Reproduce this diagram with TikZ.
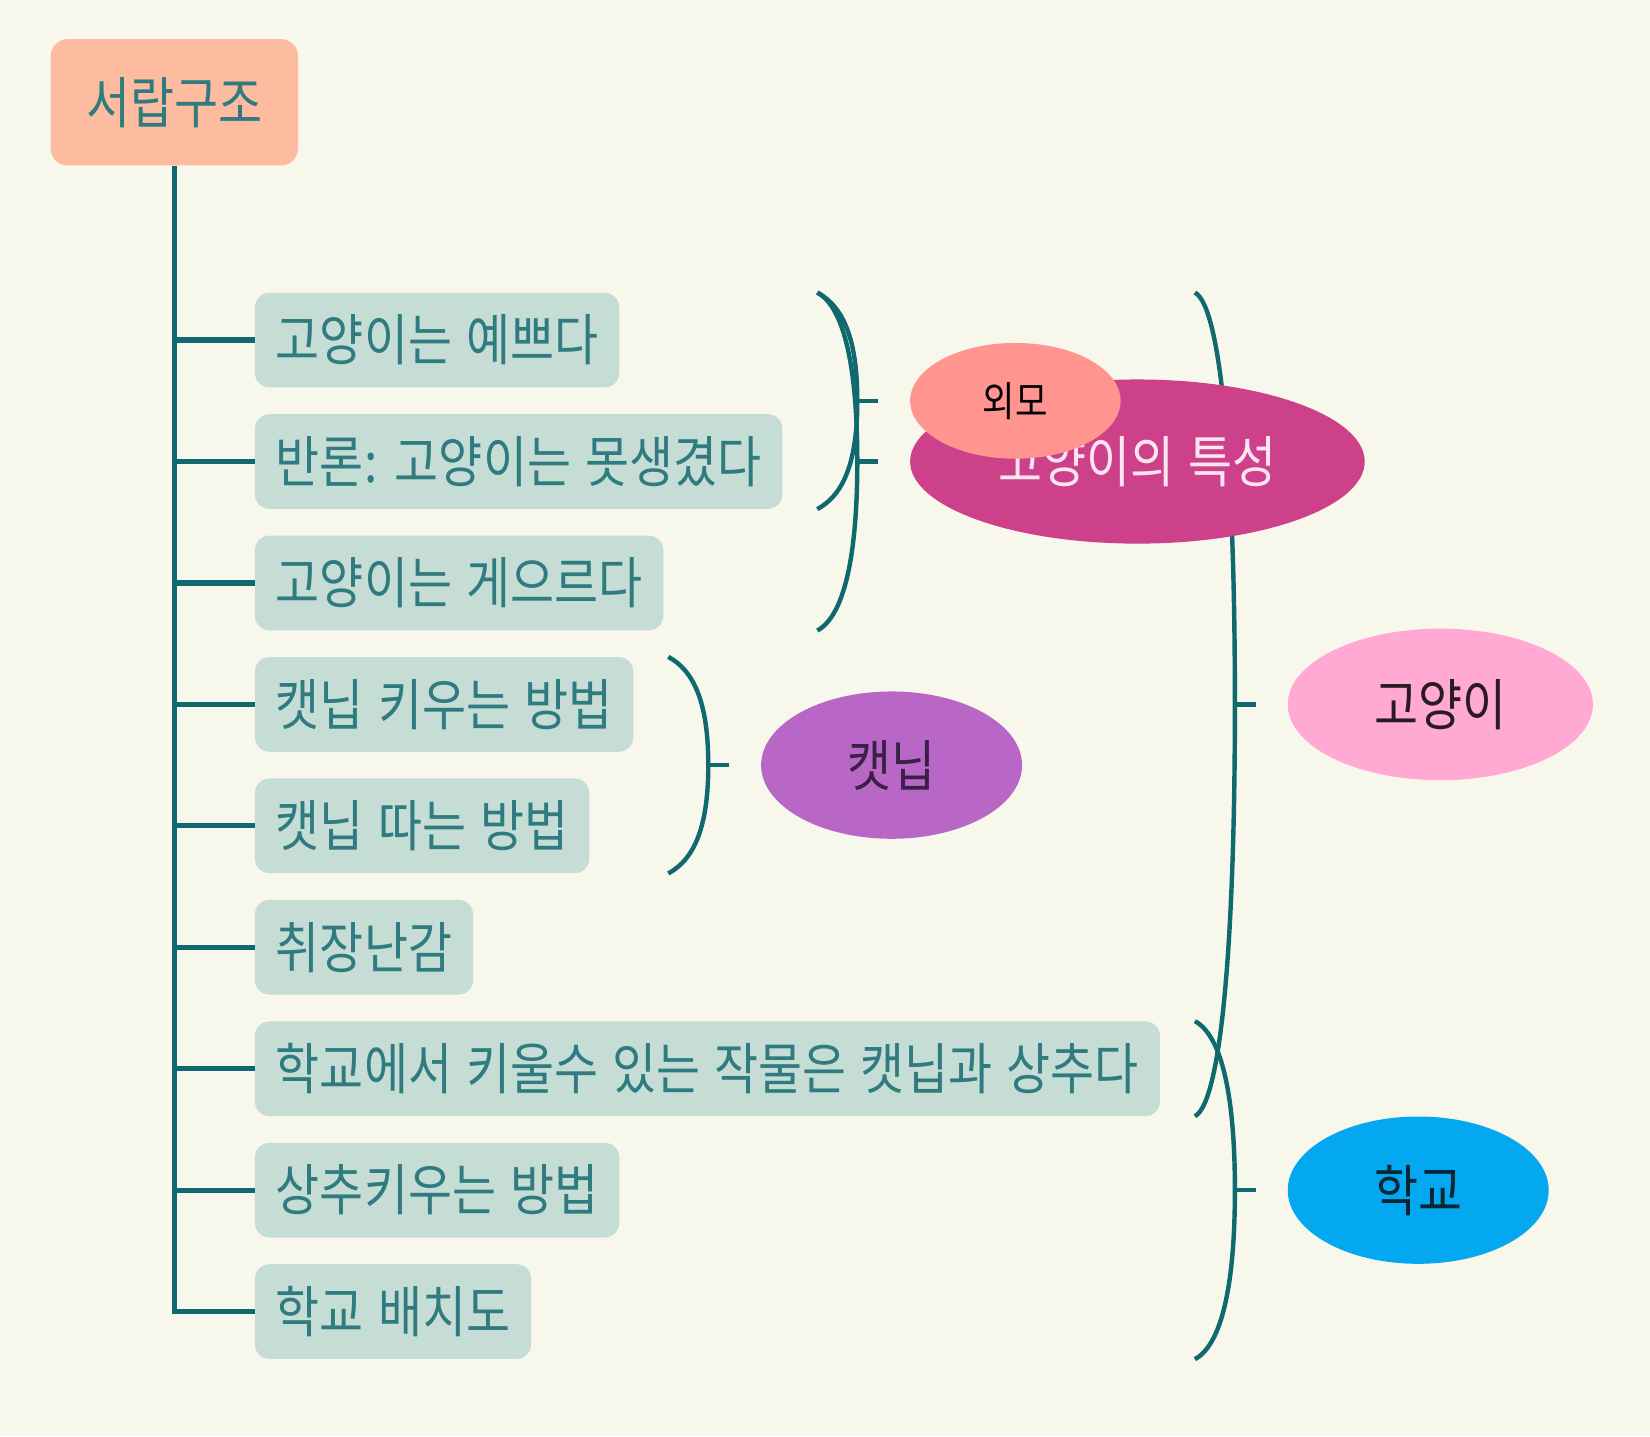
\documentclass[tikz,border=0pt]{standalone}
\usepackage{fontspec}
\setmainfont{Noto Sans CJK KR}[FakeStretch=0.86,WordSpace=1.31]
\usetikzlibrary{positioning,calc,shapes.geometric}
\definecolor{bgc}{HTML}{F8F7EC}
\definecolor{ln}{HTML}{10696F}
\definecolor{rootc}{HTML}{FDBB9F}
\definecolor{itemc}{HTML}{C6DDD6}
\definecolor{itemtxt}{HTML}{2F7B80}
\definecolor{looksc}{HTML}{FF958E}
\definecolor{traitc}{HTML}{CD408A}
\definecolor{traittxt}{HTML}{FCE4F1}
\definecolor{nipc}{HTML}{B967C6}
\definecolor{niptxt}{HTML}{3B1F47}
\definecolor{catc}{HTML}{FFA9D3}
\definecolor{cattxt}{HTML}{2A1A22}
\definecolor{schoolc}{HTML}{04A8F0}
\definecolor{schooltxt}{HTML}{0A2533}
\newcommand{\bigtxt}{\fontsize{52.9}{54}\selectfont}
\newcommand{\grp}[5]{%
  \coordinate (#1t) at ($(#4.east |- #2.north)+(33,0)$);
  \coordinate (#1b) at ($(#4.east |- #3.south)+(33,0)$);
  \coordinate (#1m) at ($(#1t)!.5!(#1b)+(38,0)$);
  \draw[brk] (#1t) .. controls +(26,14) and +(0,-#5) .. (#1m) .. controls +(0,#5) and +(26,-14) .. (#1b);
  \draw[brk] (#1m) -- ++(20,0) coordinate (#1e);
}
\tikzset{
  item/.style={fill=itemc,rounded corners=14pt,minimum height=90pt,inner xsep=20pt,inner ysep=0pt,text=itemtxt,font=\bigtxt},
  trunk/.style={draw=ln,line width=5pt},
  brk/.style={draw=ln,line width=4.2pt},
  blob/.style={ellipse,fill=#1,inner sep=0pt,font=\bigtxt},
}

\begin{document}
\begin{tikzpicture}[x=1pt,y=-1pt]
 \fill[bgc] (0,0) rectangle (1568,1365);
 \node[fill=rootc,rounded corners=16pt,minimum width=235pt,minimum height=120pt,text=itemtxt,font=\bigtxt,anchor=north west] (root) at (48,37) {서랍구조};
 \node[item,anchor=north west] (i1) at (242,278) {고양이는 예쁘다};
 \node[item,below right=25pt and 0pt of i1.south west] (i2) {반론: 고양이는 못생겼다};
 \node[item,below right=25pt and 0pt of i2.south west] (i3) {고양이는 게으르다};
 \node[item,below right=25pt and 0pt of i3.south west] (i4) {캣닙 키우는 방법};
 \node[item,below right=25pt and 0pt of i4.south west] (i5) {캣닙 따는 방법};
 \node[item,below right=25pt and 0pt of i5.south west] (i6) {취장난감};
 \node[item,below right=25pt and 0pt of i6.south west] (i7) {학교에서 키울수 있는 작물은 캣닙과 상추다};
 \node[item,below right=25pt and 0pt of i7.south west] (i8) {상추키우는 방법};
 \node[item,below right=25pt and 0pt of i8.south west] (i9) {학교 배치도};
 % trunk and branches
 \draw[trunk] (root.south) -- (root.south |- i9.west) -- (i9.west);
 \foreach \n in {1,...,8} \draw[trunk] (root.south |- i\n.west) -- (i\n.west);
 % brackets
 \grp{A}{i1}{i2}{i2}{56}
 \grp{B}{i1}{i3}{i2}{88}
 \grp{C}{i4}{i5}{i4}{56}
 \grp{D}{i1}{i7}{i7}{214}
 \grp{E}{i7}{i9}{i7}{88}
 % groups
 \node[blob=traitc,minimum width=432pt,minimum height=156pt,text=traittxt,right=30pt of Be] (trait) {고양이의 특성};
 \node[blob=looksc,minimum width=200pt,minimum height=110pt,font=\fontsize{39}{40}\selectfont,right=30pt of Ae] (looks) {외모};
 \node[blob=nipc,minimum width=248pt,minimum height=140pt,text=niptxt,right=30pt of Ce] (nip) {캣닙};
 \node[blob=catc,minimum width=290pt,minimum height=144pt,text=cattxt,right=30pt of De] (cat) {고양이};
 \node[blob=schoolc,minimum width=248pt,minimum height=140pt,text=schooltxt,right=30pt of Ee] (school) {학교};
\end{tikzpicture}
\end{document}
